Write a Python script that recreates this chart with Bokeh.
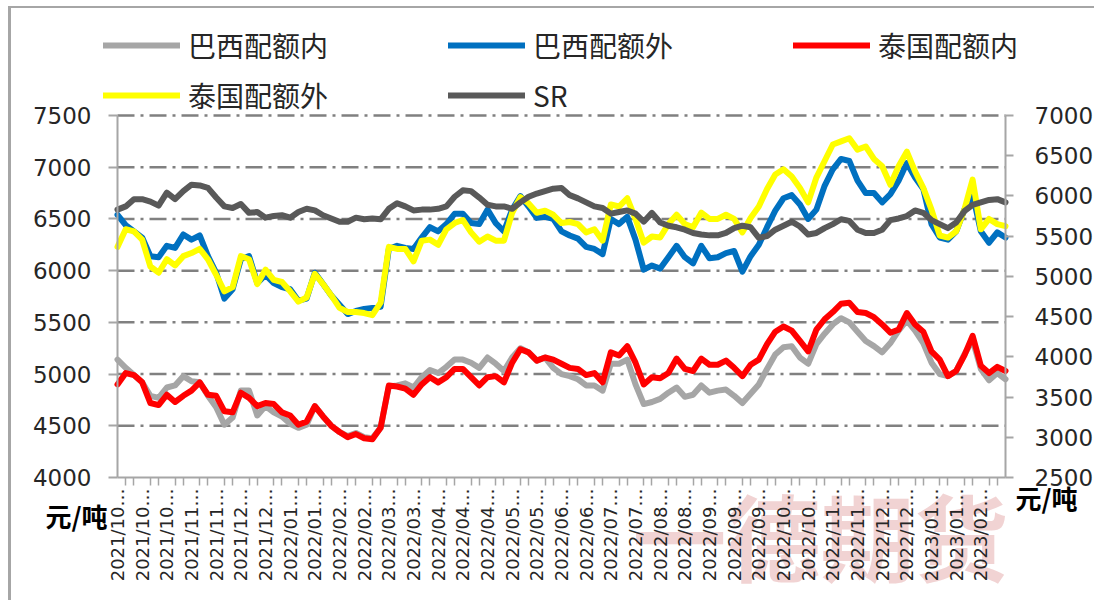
import math
from bokeh.plotting import figure
from bokeh.models import LinearAxis, Range1d, FixedTicker, Legend, LegendItem, Label
from bokeh.embed import file_html
from bokeh.resources import INLINE

# ---------------- data ----------------
months = (["2021/10"] * 3 + ["2021/11"] * 2 + ["2021/12"] * 2 + ["2022/01"] * 2 +
          ["2022/02"] * 2 + ["2022/03"] * 2 + ["2022/04"] * 3 + ["2022/05"] * 2 +
          ["2022/06"] * 2 + ["2022/07"] * 2 + ["2022/08"] * 2 + ["2022/09"] * 3 +
          ["2022/10"] * 2 + ["2022/11"] * 2 + ["2022/12"] * 2 + ["2023/01"] * 2 +
          ["2023/02"])

brazil_in = [5140, 5060, 4990, 4920, 4790, 4770, 4870, 4890, 4980, 4930, 4920, 4790, 4680, 4510, 4580,
             4840, 4840, 4600, 4690, 4630, 4590, 4520, 4480, 4510, 4690, 4590, 4500, 4440, 4400, 4430,
             4390, 4380, 4480, 4880, 4890, 4910, 4870, 4970, 5040, 5010, 5070, 5140, 5140, 5110, 5060,
             5160, 5100, 5030, 5160, 5250, 5210, 5130, 5160, 5060, 5000, 4980, 4950, 4890, 4890, 4840,
             5100, 5100, 5140, 4900, 4710, 4730, 4760, 4820, 4870, 4780, 4800, 4890, 4820, 4840, 4850,
             4790, 4720, 4810, 4900, 5050, 5190, 5260, 5270, 5160, 5100, 5290, 5390, 5480, 5540, 5500,
             5410, 5320, 5270, 5210, 5300, 5420, 5520, 5420, 5300, 5110, 5000, 4980, 5030, 5190, 5330,
             5050, 4940, 5010, 4950]

brazil_out = [6540, 6440, 6380, 6320, 6140, 6130, 6240, 6220, 6350, 6300, 6340, 6140, 5980, 5730, 5820,
              6110, 6140, 5880, 5960, 5880, 5840, 5820, 5710, 5730, 5980, 5870, 5760, 5670, 5580, 5610,
              5630, 5640, 5650, 6210, 6240, 6220, 6210, 6320, 6420, 6380, 6450, 6550, 6550, 6460, 6450,
              6590, 6460, 6380, 6590, 6720, 6620, 6510, 6520, 6500, 6380, 6340, 6310, 6230, 6210, 6160,
              6500, 6450, 6520, 6300, 6010, 6050, 6020, 6130, 6240, 6130, 6070, 6240, 6120, 6130, 6170,
              6190, 5990, 6140, 6250, 6420, 6580, 6700, 6730, 6640, 6500, 6590, 6820, 6980, 7080, 7060,
              6870, 6750, 6750, 6660, 6740, 6870, 7040, 6900, 6790, 6450, 6320, 6300, 6380, 6590, 6740,
              6380, 6270, 6370, 6320]

thai_in = [4900, 5010, 4990, 4920, 4720, 4700, 4800, 4730, 4790, 4840, 4920, 4800, 4790, 4640, 4630,
           4820, 4770, 4690, 4720, 4710, 4630, 4600, 4510, 4540, 4690, 4590, 4500, 4440, 4390, 4420,
           4380, 4370, 4480, 4890, 4880, 4860, 4800, 4900, 4970, 4920, 4970, 5050, 5050, 4970, 4890,
           4970, 4980, 4920, 5110, 5240, 5210, 5130, 5160, 5140, 5100, 5060, 5050, 4990, 5010, 4920,
           5210, 5180, 5270, 5110, 4900, 4970, 4960, 5010, 5150, 5050, 5030, 5150, 5090, 5090, 5130,
           5060, 4980, 5090, 5140, 5290, 5410, 5460, 5420, 5320, 5220, 5430, 5530, 5600, 5680, 5690,
           5600, 5590, 5550, 5480, 5400, 5430, 5590, 5480, 5410, 5220, 5140, 4980, 5030, 5180, 5370,
           5080, 5010, 5070, 5030]

thai_out = [6230, 6400, 6380, 6300, 6040, 5980, 6110, 6050, 6140, 6170, 6210, 6110, 5960, 5800, 5840,
            6140, 6110, 5870, 6010, 5910, 5890, 5800, 5700, 5740, 5970, 5870, 5760, 5640, 5600, 5600,
            5590, 5570, 5690, 6230, 6210, 6210, 6090, 6290, 6300, 6250, 6400, 6460, 6490, 6370, 6280,
            6330, 6290, 6290, 6560, 6710, 6650, 6560, 6580, 6540, 6460, 6470, 6450, 6370, 6400, 6290,
            6640, 6620, 6700, 6500, 6270, 6330, 6320, 6450, 6540, 6450, 6420, 6560, 6500, 6500, 6540,
            6500, 6370, 6510, 6620, 6790, 6930, 6980, 6910, 6800, 6660, 6900, 7060, 7220, 7250, 7280,
            7170, 7200, 7080, 7010, 6830, 7010, 7150, 6960, 6800, 6590, 6340, 6320, 6380, 6590, 6880,
            6400, 6500, 6450, 6430]

sr = [5830, 5870, 5960, 5960, 5930, 5880, 6040, 5960, 6060, 6140, 6130, 6100, 5980, 5870, 5850,
      5900, 5790, 5800, 5730, 5750, 5760, 5730, 5800, 5840, 5820, 5760, 5720, 5680, 5680, 5730,
      5710, 5720, 5710, 5840, 5910, 5870, 5820, 5830, 5830, 5840, 5870, 5990, 6070, 6060, 5980,
      5890, 5870, 5870, 5840, 5920, 5990, 6030, 6060, 6090, 6100, 6010, 5970, 5920, 5870, 5850,
      5780, 5800, 5820, 5780, 5680, 5790, 5670, 5630, 5610, 5580, 5540, 5520, 5510, 5510, 5540,
      5600, 5630, 5610, 5480, 5500, 5580, 5630, 5680, 5620, 5520, 5540, 5600, 5650, 5710, 5690,
      5580, 5540, 5540, 5580, 5700, 5720, 5750, 5820, 5790, 5700, 5650, 5600, 5670, 5810, 5890,
      5920, 5950, 5960, 5920]

left_ticks = [4000, 4500, 5000, 5500, 6000, 6500, 7000, 7500]
right_ticks = [2500, 3000, 3500, 4000, 4500, 5000, 5500, 6000, 6500, 7000]

# one point every third of a label interval
x = [i / 3 for i in range(len(sr))]
n_bands = len(months)

# ---------------- layout (canvas pixels) ----------------
W, H = 1086, 594
OX, OY = 11, 8                     # page position of the canvas
PL, PR, PT, PB = 117 - OX, 1005 - OX, 115 - OY, 477 - OY   # plot area inside canvas
L0, L1 = left_ticks[0], left_ticks[-1]
R0, R1 = right_ticks[0], right_ticks[-1]

sx = (PR - PL) / n_bands
syl = (PB - PT) / (L1 - L0)
syr = (PB - PT) / (R1 - R0)
x_rng = Range1d(-PL / sx, n_bands + (W - PR) / sx)
yl_rng = Range1d(L0 - (H - PB) / syl, L1 + PT / syl)
yr_rng = Range1d(R0 - (H - PB) / syr, R1 + PT / syr)

AX = "#a6a6a6"
TXT = "#262626"

p = figure(width=W, height=H, output_backend="svg", toolbar_location=None,
           x_range=x_rng, y_range=yl_rng,
           min_border_left=0, min_border_right=0, min_border_top=0, min_border_bottom=0,
           styles={"border-top": "2px solid #a6a6a6", "border-left": "3px solid #a6a6a6",
                   "margin-left": "8px", "margin-top": "6px"})
p.extra_y_ranges = {"sr": yr_rng}
p.outline_line_color = None
p.background_fill_color = "white"
p.border_fill_color = "white"
p.xgrid.visible = False
p.ygrid.visible = False

# watermark (behind everything)
p.add_layout(Label(x=820 - OX, y=H - (533 - OY), x_units="screen", y_units="screen", text="一德期货",
                   text_font="Noto Sans CJK SC", text_font_size="94px", text_font_style="bold",
                   text_color="#d98c8c", text_alpha=0.38, text_align="center",
                   text_baseline="middle", level="underlay"))

# x axis
xa = p.xaxis[0]
xa.fixed_location = L0
xa.bounds = (0, n_bands)
xa.ticker = FixedTicker(ticks=list(range(n_bands)),
                        minor_ticks=[k / 3 for k in range(3 * n_bands + 1) if k % 3])
xa.major_label_overrides = {i: m + "…" for i, m in enumerate(months)}
xa.major_label_orientation = math.pi / 2
xa.major_label_text_font = "DejaVu Sans"
xa.major_label_text_font_size = "18px"
xa.major_label_text_color = TXT
xa.major_label_standoff = 3
xa.major_tick_out = 0
xa.major_tick_in = 0
xa.minor_tick_out = 8
xa.minor_tick_in = 0
xa.minor_tick_line_color = AX
xa.minor_tick_line_width = 1.5
xa.axis_line_color = AX
xa.axis_line_width = 2

# left axis
ya = p.yaxis[0]
ya.fixed_location = 0
ya.bounds = (L0, L1)
ya.ticker = FixedTicker(ticks=left_ticks)
ya.major_label_text_font = "DejaVu Sans"
ya.major_label_text_font_size = "23px"
ya.major_label_text_color = TXT
ya.major_label_standoff = 17
ya.major_tick_out = 9
ya.major_tick_in = 0
ya.minor_tick_line_color = None
ya.major_tick_line_color = AX
ya.major_tick_line_width = 2
ya.axis_line_color = AX
ya.axis_line_width = 2

# right axis
ra = LinearAxis(y_range_name="sr", ticker=FixedTicker(ticks=right_ticks),
                fixed_location=n_bands, bounds=(R0, R1))
ra.major_label_text_font = "DejaVu Sans"
ra.major_label_text_font_size = "23px"
ra.major_label_text_color = TXT
ra.major_label_standoff = 21
ra.major_tick_out = 8
ra.major_tick_in = 0
ra.minor_tick_line_color = None
ra.major_tick_line_color = AX
ra.major_tick_line_width = 2
ra.axis_line_color = AX
ra.axis_line_width = 2
p.add_layout(ra, "right")

# horizontal dash-dot grid lines at the left-axis ticks
gy = left_ticks[1:]
p.segment(x0=[0] * len(gy), x1=[n_bands] * len(gy), y0=gy, y1=gy,
          line_color="#808080", line_width=2.5, line_dash="17 6 3 6")

# series
LW = 6
r1 = p.line(x, brazil_in, line_color="#a6a6a6", line_width=LW, line_join="round", line_cap="round")
r2 = p.line(x, brazil_out, line_color="#0070c0", line_width=LW, line_join="round", line_cap="round")
r3 = p.line(x, thai_in, line_color="#ff0000", line_width=LW, line_join="round", line_cap="round")
r4 = p.line(x, thai_out, line_color="#ffff00", line_width=LW, line_join="round", line_cap="round")
r5 = p.line(x, sr, line_color="#595959", line_width=LW, line_join="round", line_cap="round",
            y_range_name="sr")


def make_legend(items, page_bottom):
    return Legend(items=items, location=(103 - OX, H - (page_bottom - OY)),
                  orientation="horizontal",
                  glyph_width=77, glyph_height=40, label_height=40, label_width=250,
                  label_standoff=8, spacing=10, padding=0, margin=0,
                  label_text_font="Noto Sans CJK SC", label_text_font_size="28px",
                  label_text_color=TXT, border_line_color=None, background_fill_alpha=0)


p.add_layout(make_legend([LegendItem(label="巴西配额内", renderers=[r1]),
                          LegendItem(label="巴西配额外", renderers=[r2]),
                          LegendItem(label="泰国配额内", renderers=[r3])], 65), "center")
p.add_layout(make_legend([LegendItem(label="泰国配额外", renderers=[r4]),
                          LegendItem(label="SR", renderers=[r5])], 115), "center")

# unit labels
for cx, cy in [(76, 515), (1046, 497)]:
    p.add_layout(Label(x=cx - OX, y=H - (cy - OY), x_units="screen", y_units="screen", text="元/吨",
                       text_font="Noto Sans CJK SC", text_font_size="26px", text_font_style="bold",
                       text_color="#000000", text_align="center", text_baseline="middle"))

open("out.html", "w").write(file_html(p, INLINE))
